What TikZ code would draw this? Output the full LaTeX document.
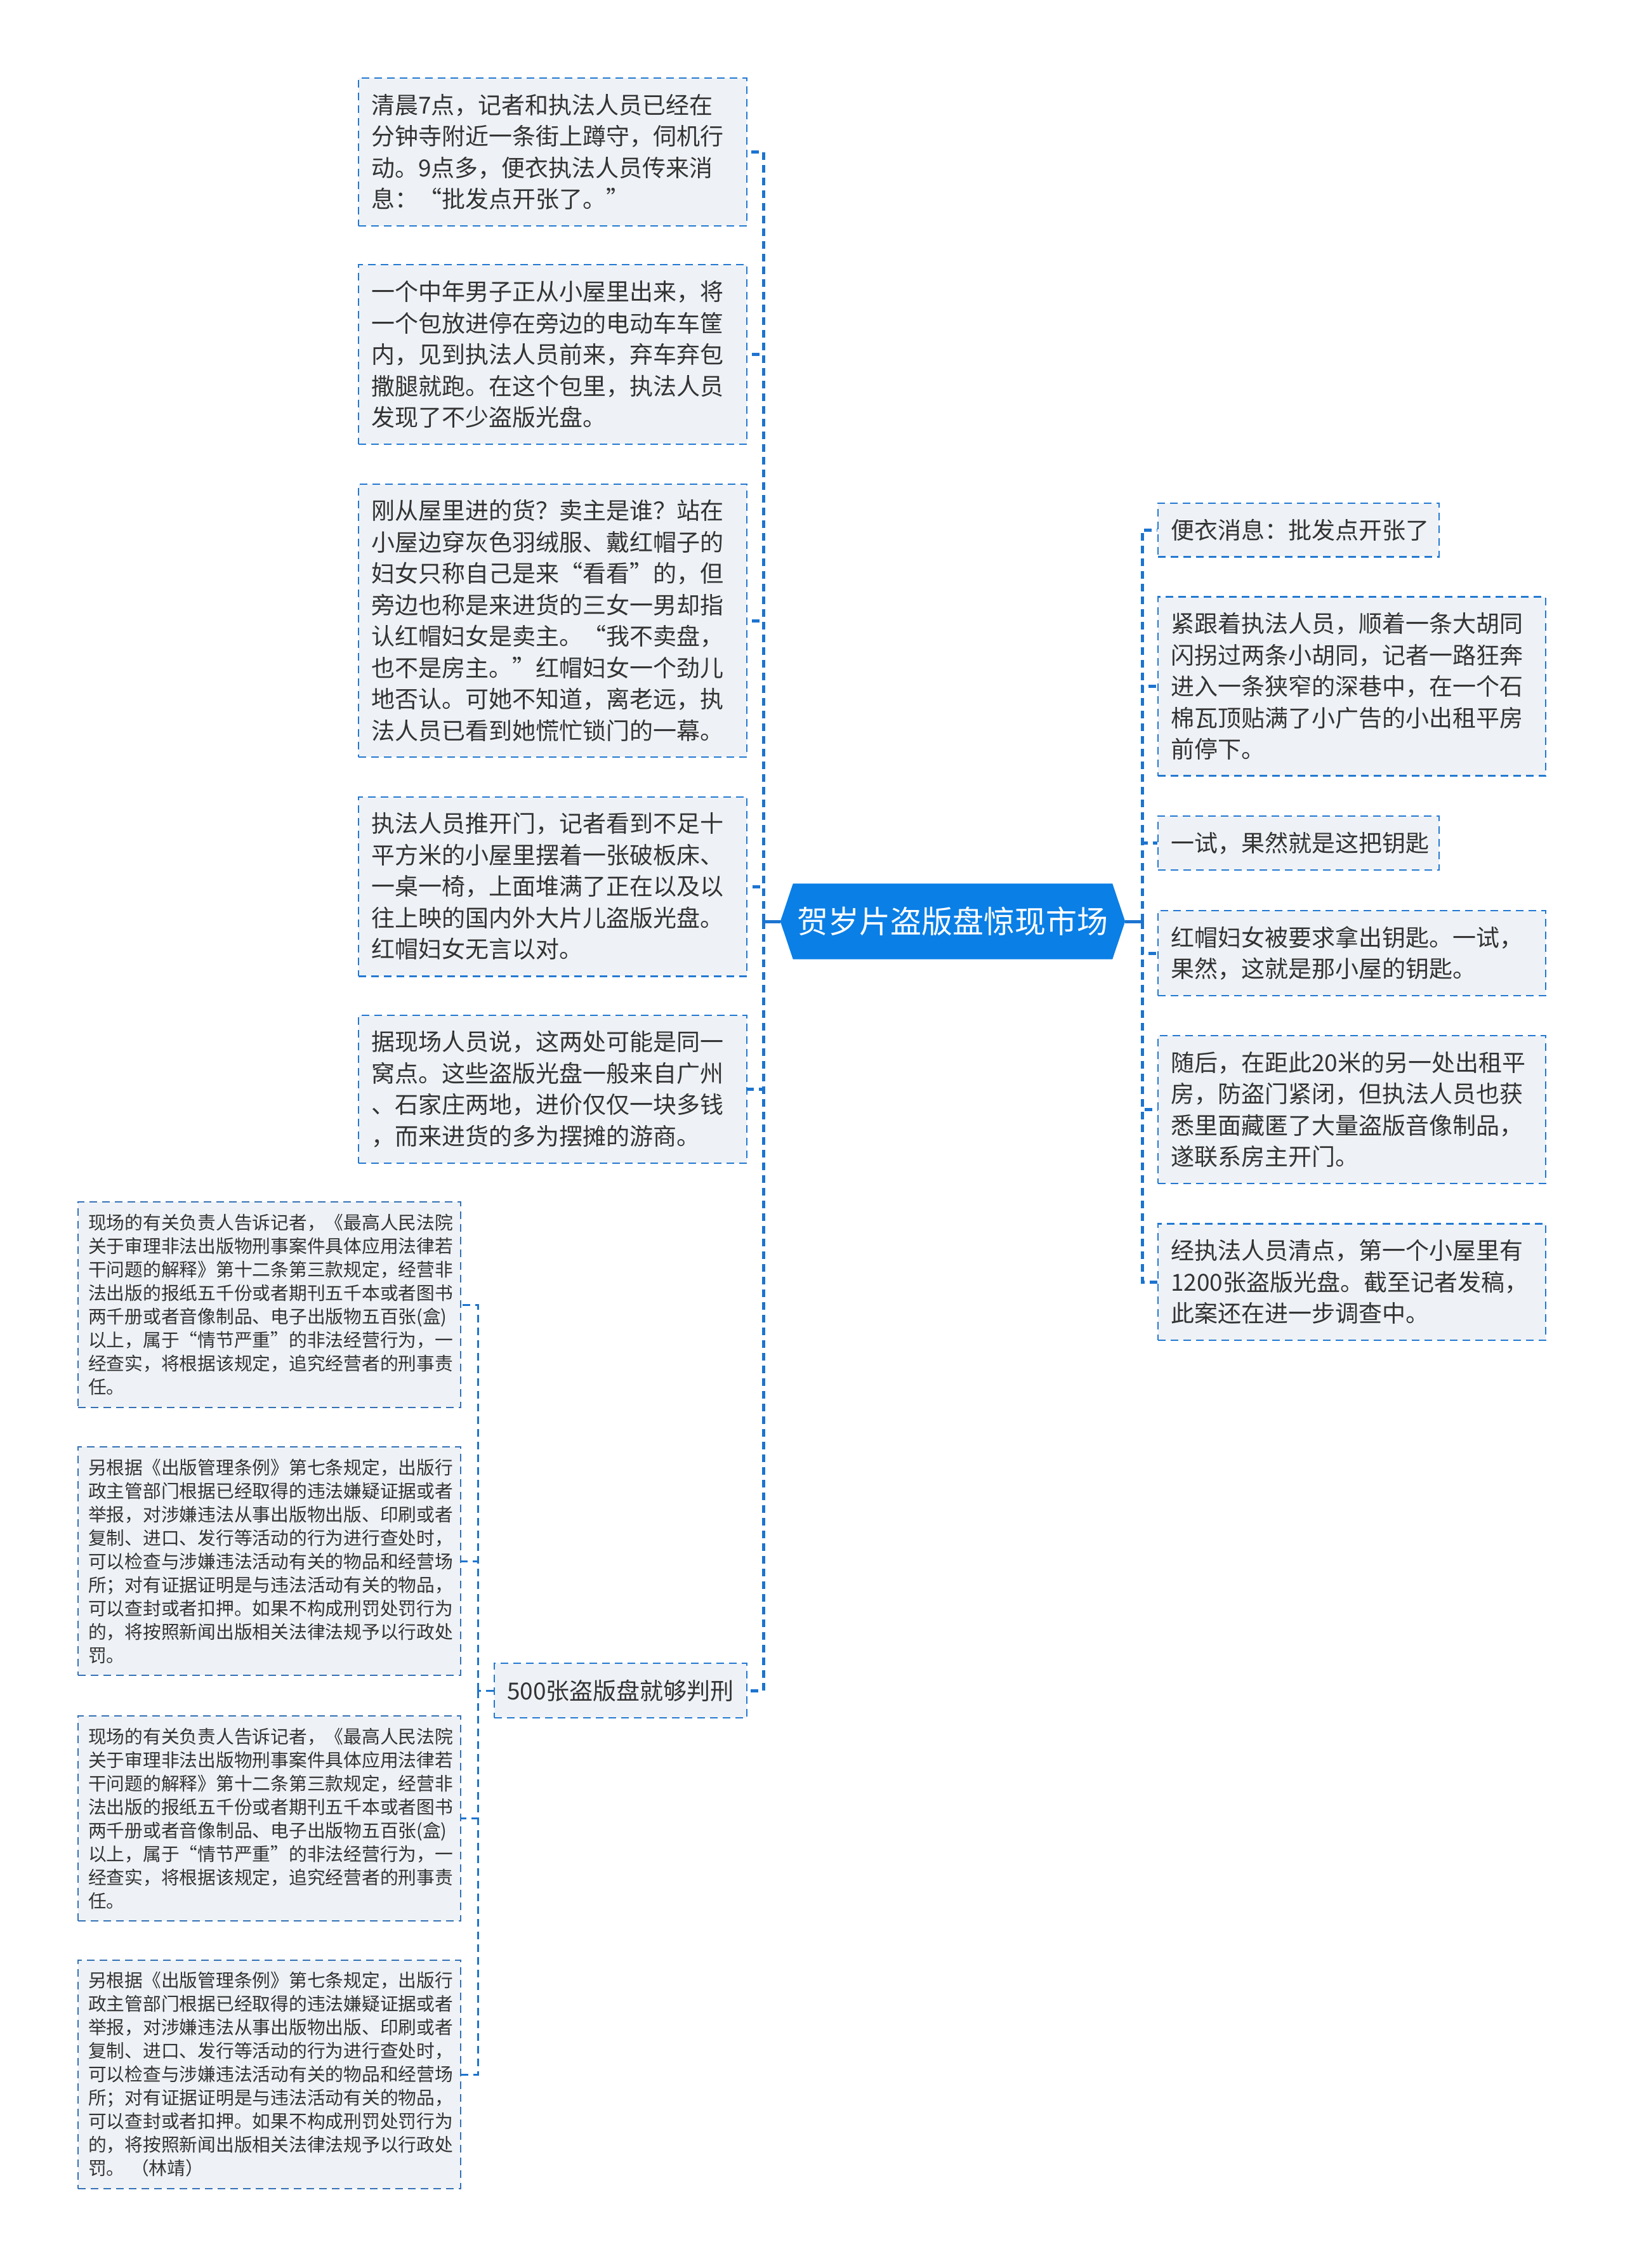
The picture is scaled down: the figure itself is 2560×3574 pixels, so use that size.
\documentclass[tikz,border=0pt]{standalone}
\usepackage{fontspec}
\setmainfont{Noto Sans CJK SC}
\usetikzlibrary{backgrounds}
\definecolor{bfill}{HTML}{EEF2F6}
\definecolor{bline}{HTML}{2379D2}
\definecolor{llline}{HTML}{3471B6}
\definecolor{cline}{HTML}{1C74D0}
\definecolor{cfill}{HTML}{0A7FE6}
\definecolor{tcol}{HTML}{333333}
\begin{document}
\begin{tikzpicture}[x=1pt,y=-1pt,
  tbox/.style={draw=bline, fill=bfill, line width=2.5pt, dash pattern=on 12pt off 8pt,
    inner xsep=20pt, inner ysep=0pt, align=left, text=tcol,
    font=\fontsize{37pt}{49.5pt}\selectfont},
  ltbox/.style={tbox, draw=llline, line width=2pt, inner xsep=16pt,
    font=\fontsize{28.75pt}{37pt}\selectfont},
  conn/.style={draw=cline, line width=5pt, dash pattern=on 12pt off 8pt},
  llconn/.style={conn, line width=3pt},
  solidconn/.style={draw=cline, line width=5pt}]
\useasboundingbox (0,0) rectangle (2560,3574);

% trunk points
\coordinate (lt) at (1203,1452);
\coordinate (rt) at (1800,1452);
\coordinate (llt) at (753,2664);

% center node
\node[text=white, font=\fontsize{49pt}{58pt}\selectfont, minimum width=503pt, minimum height=119pt, inner sep=0pt] (c) at (1501.5,1452) {贺岁片盗版盘惊现市场};
\begin{scope}[on background layer]
\fill[cfill] ([xshift=-20pt]c.west) -- (c.north west) -- (c.north east) -- ([xshift=20pt]c.east) -- (c.south east) -- (c.south west) -- cycle;
\end{scope}

% left boxes
\node[tbox, minimum width=612pt, minimum height=233pt, text width=572pt] (l1) at (871,239.5)
{清晨7点，记者和执法人员已经在\\分钟寺附近一条街上蹲守，伺机行\\动。9点多，便衣执法人员传来消\\息：“批发点开张了。”};
\node[tbox, minimum width=612pt, minimum height=283pt, text width=572pt] (l2) at (871,558.5)
{一个中年男子正从小屋里出来，将\\一个包放进停在旁边的电动车车筐\\内，见到执法人员前来，弃车弃包\\撒腿就跑。在这个包里，执法人员\\发现了不少盗版光盘。};
\node[tbox, minimum width=612pt, minimum height=430pt, text width=572pt] (l3) at (871,978)
{刚从屋里进的货？卖主是谁？站在\\小屋边穿灰色羽绒服、戴红帽子的\\妇女只称自己是来“看看”的，但\\旁边也称是来进货的三女一男却指\\认红帽妇女是卖主。“我不卖盘，\\也不是房主。”红帽妇女一个劲儿\\地否认。可她不知道，离老远，执\\法人员已看到她慌忙锁门的一幕。};
\node[tbox, minimum width=612pt, minimum height=282.5pt, text width=572pt] (l4) at (871,1397)
{执法人员推开门，记者看到不足十\\平方米的小屋里摆着一张破板床、\\一桌一椅，上面堆满了正在以及以\\往上映的国内外大片儿盗版光盘。\\红帽妇女无言以对。};
\node[tbox, minimum width=612pt, minimum height=233pt, text width=572pt] (l5) at (871,1716.5)
{据现场人员说，这两处可能是同一\\窝点。这些盗版光盘一般来自广州\\、石家庄两地，进价仅仅一块多钱\\，而来进货的多为摆摊的游商。};
\node[tbox, minimum width=398pt, minimum height=86pt, text width=358pt] (p500) at (978,2664)
{500张盗版盘就够判刑};

% right boxes
\node[tbox, minimum width=443pt, minimum height=84.5pt, text width=403pt] (r1) at (2046.5,835)
{便衣消息：批发点开张了};
\node[tbox, minimum width=611pt, minimum height=282pt, text width=571pt] (r2) at (2130.5,1081.5)
{紧跟着执法人员，顺着一条大胡同\\闪拐过两条小胡同，记者一路狂奔\\进入一条狭窄的深巷中，在一个石\\棉瓦顶贴满了小广告的小出租平房\\前停下。};
\node[tbox, minimum width=443pt, minimum height=85pt, text width=403pt] (r3) at (2046.5,1328.5)
{一试，果然就是这把钥匙};
\node[tbox, minimum width=611pt, minimum height=134pt, text width=571pt] (r4) at (2130.5,1502)
{红帽妇女被要求拿出钥匙。一试，\\果然，这就是那小屋的钥匙。};
\node[tbox, minimum width=611pt, minimum height=233pt, text width=571pt] (r5) at (2130.5,1748.5)
{随后，在距此20米的另一处出租平\\房，防盗门紧闭，但执法人员也获\\悉里面藏匿了大量盗版音像制品，\\遂联系房主开门。};
\node[tbox, minimum width=611pt, minimum height=183.5pt, text width=571pt] (r6) at (2130.5,2020)
{经执法人员清点，第一个小屋里有\\1200张盗版光盘。截至记者发稿，\\此案还在进一步调查中。};

% far-left boxes
\node[ltbox, minimum width=603pt, minimum height=324pt, text width=571pt] (ll1) at (424.5,2056)
{现场的有关负责人告诉记者，《最高人民法院\\关于审理非法出版物刑事案件具体应用法律若\\干问题的解释》第十二条第三款规定，经营非\\法出版的报纸五千份或者期刊五千本或者图书\\两千册或者音像制品、电子出版物五百张(盒)\\以上，属于“情节严重”的非法经营行为，一\\经查实，将根据该规定，追究经营者的刑事责\\任。};
\node[ltbox, minimum width=603pt, minimum height=360pt, text width=571pt] (ll2) at (424.5,2460)
{另根据《出版管理条例》第七条规定，出版行\\政主管部门根据已经取得的违法嫌疑证据或者\\举报，对涉嫌违法从事出版物出版、印刷或者\\复制、进口、发行等活动的行为进行查处时，\\可以检查与涉嫌违法活动有关的物品和经营场\\所；对有证据证明是与违法活动有关的物品，\\可以查封或者扣押。如果不构成刑罚处罚行为\\的，将按照新闻出版相关法律法规予以行政处\\罚。};
\node[ltbox, minimum width=603pt, minimum height=323pt, text width=571pt] (ll3) at (424.5,2865.5)
{现场的有关负责人告诉记者，《最高人民法院\\关于审理非法出版物刑事案件具体应用法律若\\干问题的解释》第十二条第三款规定，经营非\\法出版的报纸五千份或者期刊五千本或者图书\\两千册或者音像制品、电子出版物五百张(盒)\\以上，属于“情节严重”的非法经营行为，一\\经查实，将根据该规定，追究经营者的刑事责\\任。};
\node[ltbox, minimum width=603pt, minimum height=360pt, text width=571pt] (ll4) at (424.5,3269)
{另根据《出版管理条例》第七条规定，出版行\\政主管部门根据已经取得的违法嫌疑证据或者\\举报，对涉嫌违法从事出版物出版、印刷或者\\复制、进口、发行等活动的行为进行查处时，\\可以检查与涉嫌违法活动有关的物品和经营场\\所；对有证据证明是与违法活动有关的物品，\\可以查封或者扣押。如果不构成刑罚处罚行为\\的，将按照新闻出版相关法律法规予以行政处\\罚。 （林靖）};

% connectors: center to trunks
\draw[solidconn] ([xshift=-20pt]c.west) -- (lt);
\draw[solidconn] ([yshift=-9pt]lt) -- ([yshift=9pt]lt);
\draw[solidconn] ([xshift=20pt]c.east) -- (rt);
\draw[solidconn] ([yshift=-9pt]rt) -- ([yshift=9pt]rt);

% left branch
\foreach \n in {l1,l2,l3,l4,l5,p500} {
  \draw[conn] (lt) |- (\n.east);
}
% right branch
\foreach \n in {r1,r2,r3,r4,r5,r6} {
  \draw[conn] (rt) |- (\n.west);
}
% far-left branch
\draw[llconn] (p500.west) -- (llt);
\foreach \n in {ll1,ll2,ll3,ll4} {
  \draw[llconn] (llt) |- (\n.east);
}
\end{tikzpicture}
\end{document}
